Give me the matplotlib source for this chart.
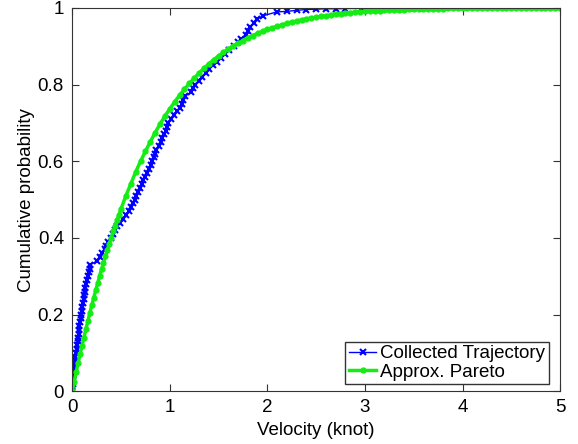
import matplotlib.pyplot as plt
import numpy as np

plt.rcParams['font.family'] = ['Liberation Sans', 'DejaVu Sans']

traj_v = [0.0, 0.0, 0.003, 0.006, 0.01, 0.015, 0.018, 0.02, 0.027, 0.033,
          0.04, 0.045, 0.05, 0.055, 0.06, 0.065, 0.07, 0.073, 0.078, 0.085,
          0.09, 0.096, 0.102, 0.108, 0.116, 0.123, 0.128, 0.134, 0.14, 0.15,
          0.158, 0.17, 0.18, 0.186, 0.255, 0.285, 0.31, 0.335, 0.35, 0.365,
          0.395, 0.42, 0.44, 0.46, 0.485, 0.52, 0.55, 0.58, 0.605, 0.625,
          0.64, 0.655, 0.675, 0.695, 0.715, 0.73, 0.75, 0.77, 0.79, 0.805,
          0.82, 0.835, 0.848, 0.862, 0.885, 0.905, 0.925, 0.945, 0.96, 0.972,
          0.985, 1.01, 1.04, 1.075, 1.10, 1.125, 1.14, 1.155, 1.22, 1.24,
          1.26, 1.295, 1.33, 1.37, 1.405, 1.44, 1.48, 1.525, 1.565, 1.61,
          1.655, 1.70, 1.73, 1.78, 1.80, 1.825, 1.86, 1.89, 1.96, 2.1,
          2.2, 2.3, 2.4, 2.5, 2.6, 2.7, 2.8, 2.97, 3.28, 3.45]
traj_p = [0.0, 0.01, 0.02, 0.03, 0.04, 0.05, 0.06, 0.07, 0.08, 0.09,
          0.10, 0.11, 0.12, 0.13, 0.14, 0.15, 0.16, 0.17, 0.18, 0.19,
          0.20, 0.21, 0.22, 0.23, 0.24, 0.25, 0.26, 0.27, 0.28, 0.29,
          0.30, 0.31, 0.32, 0.33, 0.34, 0.35, 0.36, 0.37, 0.38, 0.39,
          0.40, 0.41, 0.42, 0.43, 0.44, 0.45, 0.46, 0.47, 0.48, 0.49,
          0.50, 0.51, 0.52, 0.53, 0.54, 0.55, 0.56, 0.57, 0.58, 0.59,
          0.60, 0.61, 0.62, 0.63, 0.64, 0.65, 0.66, 0.67, 0.68, 0.69,
          0.70, 0.71, 0.72, 0.73, 0.74, 0.75, 0.76, 0.77, 0.78, 0.79,
          0.80, 0.81, 0.82, 0.83, 0.84, 0.85, 0.86, 0.87, 0.88, 0.89,
          0.90, 0.91, 0.92, 0.93, 0.94, 0.95, 0.96, 0.97, 0.98, 0.99,
          0.991, 0.994, 0.996, 0.997, 0.998, 0.998, 0.9985, 0.999, 0.9995, 1.0]

# approximate Pareto curve
pareto_v = [0.0, 0.02, 0.04, 0.06, 0.08, 0.10, 0.12, 0.14, 0.16, 0.18,
            0.20, 0.22, 0.24, 0.26, 0.28, 0.30, 0.32, 0.34, 0.36, 0.38,
            0.40, 0.42, 0.44, 0.46, 0.48, 0.50, 0.55, 0.60, 0.65, 0.70,
            0.75, 0.80, 0.85, 0.90, 0.95, 1.00, 1.05, 1.10, 1.15, 1.20,
            1.25, 1.30, 1.35, 1.40, 1.45, 1.50, 1.55, 1.60, 1.65, 1.70,
            1.75, 1.80, 1.85, 1.90, 1.95, 2.00, 2.05, 2.10, 2.15, 2.20,
            2.25, 2.30, 2.35, 2.40, 2.45, 2.50, 2.55, 2.60, 2.65, 2.70,
            2.75, 2.80, 2.85, 2.90, 2.95, 3.00, 3.05, 3.10, 3.15, 3.20,
            3.25, 3.30, 3.35, 3.40, 3.45, 3.50, 3.55, 3.60, 3.65, 3.70,
            3.75, 3.80, 3.85, 3.90, 3.95, 4.00, 4.05, 4.10, 4.15, 4.20,
            4.25, 4.30, 4.35, 4.40, 4.45, 4.50, 4.55, 4.60, 4.65, 4.70,
            4.75, 4.80, 4.85, 4.90, 4.95, 5.00]
pareto_p = [0.0, 0.025, 0.049, 0.073, 0.096, 0.118, 0.140, 0.162, 0.183, 0.204,
            0.224, 0.243, 0.263, 0.281, 0.300, 0.318, 0.335, 0.352, 0.369, 0.385,
            0.401, 0.417, 0.432, 0.447, 0.461, 0.476, 0.510, 0.541, 0.572, 0.600,
            0.626, 0.651, 0.675, 0.697, 0.718, 0.737, 0.755, 0.772, 0.788, 0.803,
            0.817, 0.830, 0.843, 0.854, 0.865, 0.875, 0.884, 0.893, 0.901, 0.908,
            0.915, 0.922, 0.928, 0.934, 0.939, 0.944, 0.948, 0.952, 0.956, 0.960,
            0.963, 0.966, 0.969, 0.972, 0.974, 0.976, 0.978, 0.980, 0.982, 0.984,
            0.985, 0.987, 0.988, 0.989, 0.990, 0.991, 0.992, 0.993, 0.993, 0.994,
            0.995, 0.995, 0.996, 0.996, 0.997, 0.997, 0.997, 0.998, 0.998, 0.998,
            0.998, 0.998, 0.999, 0.999, 0.999, 0.999, 0.999, 0.999, 0.999, 0.999,
            0.999, 0.999, 1.0, 1.0, 1.0, 1.0, 1.0, 1.0, 1.0, 1.0,
            1.0, 1.0, 1.0, 1.0, 1.0, 1.0]

x_ticks = [0, 1, 2, 3, 4, 5]
y_ticks = [0, 0.2, 0.4, 0.6, 0.8, 1]
y_labels = ["0", "0.2", "0.4", "0.6", "0.8", "1"]

fig = plt.figure(figsize=(5.78, 4.44), dpi=100)
ax = fig.add_axes([0.125, 0.119, 0.844, 0.863])

ax.plot(traj_v, traj_p, '-x', color=(0, 0, 1), lw=1, ms=4.5, mew=1.5,
        label="Collected Trajectory")
ax.plot(pareto_v, pareto_p, '-o', color=(0.08, 0.93, 0.08), lw=2.5, ms=3.5,
        label="Approx. Pareto")

ax.set_xlim(0, 5)
ax.set_ylim(0, 1)
ax.set_xticks(x_ticks)
ax.set_xticklabels([str(t) for t in x_ticks])
ax.set_yticks(y_ticks)
ax.set_yticklabels(y_labels)
ax.tick_params(direction='in', top=True, right=True, length=5, labelsize=13.5,
               color='#333333', pad=6)
for s in ax.spines.values():
    s.set_color('#333333')
ax.set_xlabel("Velocity (knot)", fontsize=13.5, labelpad=4)
ax.set_ylabel("Cumulative probability", fontsize=13.5, labelpad=2)

leg = ax.legend(loc='lower right', bbox_to_anchor=(0.977, 0.018),
                borderaxespad=0, fancybox=False, edgecolor='#333333',
                fontsize=13.5, handlelength=1.45, handletextpad=0.2,
                labelspacing=0.05, borderpad=0.2, framealpha=1)
leg.get_frame().set_linewidth(1)

fig.savefig("out.png", dpi=100)
